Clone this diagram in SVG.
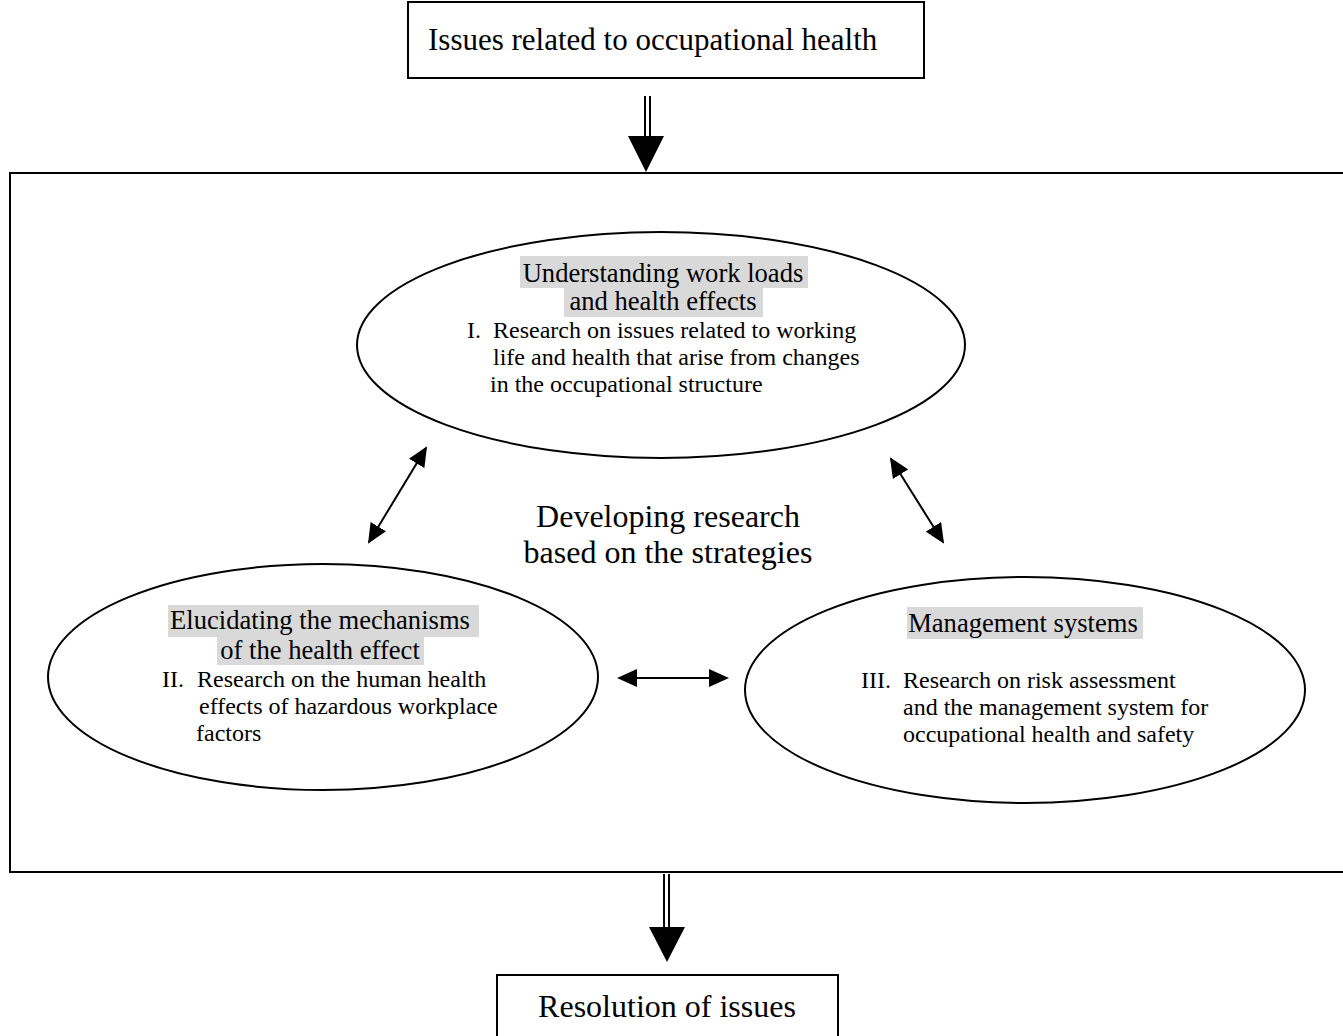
<svg xmlns="http://www.w3.org/2000/svg" width="1343" height="1036" viewBox="0 0 1343 1036">
<defs>
<marker id="ah" viewBox="0 0 20 18" refX="18" refY="9" markerWidth="20" markerHeight="18" markerUnits="userSpaceOnUse" orient="auto-start-reverse">
<path d="M0,0 L20,9 L0,18 z" fill="#000"/>
</marker>
</defs>
<style>
text{font-family:"Liberation Serif","Times New Roman",serif;fill:#000}
.box{fill:#fff;stroke:#000;stroke-width:2}
.ell{fill:#fff;stroke:#000;stroke-width:2}
.hl{fill:#d9d9d9}
.t31{font-size:31px}
.t32{font-size:32px}
.t26{font-size:26.6px}
.t24{font-size:24px}
.c{text-anchor:middle}
.sh{stroke:#000;stroke-width:2;fill:none}
.dbl{stroke:#000;stroke-width:2;fill:none;marker-start:url(#ah);marker-end:url(#ah)}
</style>
<rect width="1343" height="1036" fill="#fff"/>
<g id="frame">
<rect x="10" y="173" width="1345" height="699" class="box"/>
</g>
<g id="issues">
<rect x="408" y="2" width="516" height="76" class="box"/>
<text x="428" y="50" class="t31">Issues related to occupational health</text>
</g>
<g id="resolution">
<rect x="497" y="975" width="341" height="70" class="box"/>
<text x="667" y="1017" class="t32 c">Resolution of issues</text>
</g>
<g id="center-label">
<text x="668" y="527" class="t32 c">Developing research</text>
<text x="668" y="563" class="t32 c">based on the strategies</text>
</g>
<g id="node-I">
<ellipse cx="661" cy="345" rx="304" ry="113" class="ell"/>
<rect x="520" y="256" width="288" height="32" class="hl"/>
<rect x="564" y="288" width="199" height="29" class="hl"/>
<text x="663" y="282" class="t26 c">Understanding work loads</text>
<text x="663" y="310" class="t26 c">and health effects</text>
<text x="467" y="338" class="t24">I.</text>
<text x="493" y="338" class="t24">Research on issues related to working</text>
<text x="493" y="365" class="t24">life and health that arise from changes</text>
<text x="490" y="392" class="t24">in the occupational structure</text>
</g>
<g id="node-II">
<ellipse cx="323" cy="677" rx="275" ry="113" class="ell"/>
<rect x="168" y="605" width="311" height="32" class="hl"/>
<rect x="217" y="637" width="207" height="28" class="hl"/>
<text x="320" y="629" class="t26 c">Elucidating the mechanisms</text>
<text x="320" y="659" class="t26 c">of the health effect</text>
<text x="162" y="687" class="t24">II.</text>
<text x="197" y="687" class="t24">Research on the human health</text>
<text x="199" y="714" class="t24">effects of hazardous workplace</text>
<text x="196" y="741" class="t24">factors</text>
</g>
<g id="node-III">
<ellipse cx="1025" cy="690" rx="280" ry="113" class="ell"/>
<rect x="907" y="607" width="236" height="32" class="hl"/>
<text x="1023" y="632" class="t26 c">Management systems</text>
<text x="861" y="688" class="t24">III.</text>
<text x="903" y="688" class="t24">Research on risk assessment</text>
<text x="903" y="715" class="t24">and the management system for</text>
<text x="903" y="742" class="t24">occupational health and safety</text>
</g>
<g id="connectors">
<line x1="645" y1="96" x2="645" y2="137" class="sh"/>
<line x1="650" y1="96" x2="650" y2="137" class="sh"/>
<path d="M628,136 L664,136 L646,172 z" fill="#000"/>
<line x1="664" y1="874" x2="664" y2="928" class="sh"/>
<line x1="669" y1="874" x2="669" y2="928" class="sh"/>
<path d="M649,927 L685,927 L667,962 z" fill="#000"/>
<line x1="369" y1="542" x2="426" y2="448" class="dbl"/>
<line x1="891" y1="459" x2="943" y2="542" class="dbl"/>
<line x1="619" y1="678" x2="727" y2="678" class="dbl"/>
</g>
</svg>
